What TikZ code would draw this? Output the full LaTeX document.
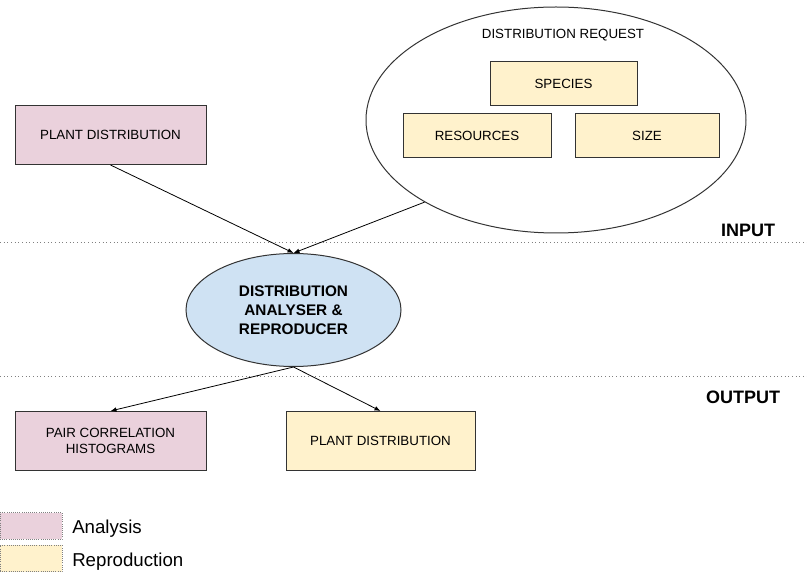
\documentclass[tikz,border=0pt]{standalone}
\usepackage{fontspec}
\setmainfont{Liberation Sans}
\usetikzlibrary{shapes.geometric,arrows.meta}
\definecolor{analysispink}{HTML}{EAD1DC}
\definecolor{reproyellow}{HTML}{FFF2CC}
\definecolor{analyserblue}{HTML}{CFE2F3}
\definecolor{edgegray}{HTML}{333333}

\begin{document}
\begin{tikzpicture}[x=0.75pt,y=-0.75pt,
    stagebox/.style={draw=edgegray,line width=0.75pt,inner sep=0pt,
      align=center,font=\fontsize{10}{12}\selectfont},
    flow/.style={draw=black,line width=0.6pt,-{Latex[length=4.5pt,width=3.5pt]}},
    layersep/.style={draw=gray,dotted,line width=0.75pt},
    keybox/.style={draw=gray,densely dotted,line width=0.6pt,
      minimum width=46.5pt,minimum height=19.75pt,inner sep=0pt}]
  \useasboundingbox (0,0) rectangle (807,577);

  % input side
  \node[stagebox,fill=analysispink,minimum width=143.25pt,minimum height=44.25pt]
    (pdin) at (110.5,135) {PLANT DISTRIBUTION};
  \node[draw=edgegray,line width=0.75pt,ellipse,inner sep=0pt,
        minimum width=285pt,minimum height=169.5pt]
    (request) at (556,120) {};
  \node[font=\fontsize{10}{12}\selectfont] (requesttitle) at (563,35) {DISTRIBUTION REQUEST};
  \node[stagebox,fill=reproyellow,minimum width=110.25pt,minimum height=33pt]
    (species) at (563.5,83.5) {SPECIES};
  \node[stagebox,fill=reproyellow,minimum width=111pt,minimum height=33pt]
    (resources) at (477,135.5) {RESOURCES};
  \node[stagebox,fill=reproyellow,minimum width=108pt,minimum height=33pt]
    (size) at (647,135.5) {SIZE};

  % layers
  \draw[layersep] (0,243) -- (807,243);
  \draw[layersep] (0,376) -- (807,376);
  \node[font=\fontsize{13.5}{16}\selectfont\bfseries] (inputlbl) at (748,230) {INPUT};
  \node[font=\fontsize{13.5}{16}\selectfont\bfseries] (outputlbl) at (743,397) {OUTPUT};

  % analyser
  \node[draw=edgegray,line width=0.75pt,ellipse,fill=analyserblue,inner sep=0pt,
        minimum width=161.25pt,minimum height=84.75pt,align=center,
        font=\fontsize{11.5}{14.25}\selectfont\bfseries]
    (analyser) at (293.5,310) {DISTRIBUTION\\ANALYSER \&\\REPRODUCER};

  % output side
  \node[stagebox,fill=analysispink,minimum width=143.25pt,minimum height=44.25pt]
    (pair) at (110.5,441) {PAIR CORRELATION\\HISTOGRAMS};
  \node[stagebox,fill=reproyellow,minimum width=141.75pt,minimum height=44.25pt]
    (pdout) at (380.5,441) {PLANT DISTRIBUTION};

  \draw[flow] (pdin.south) -- (analyser.north);
  \draw[flow] (request.212) -- (analyser.north);
  \draw[flow] (analyser.south) -- (pair.north);
  \draw[flow] (analyser.south) -- (pdout.north);

  % legend
  \node[keybox,fill=analysispink] (keyanalysis) at (31,526) {};
  \node[keybox,fill=reproyellow] (keyrepro) at (31,558.5) {};
  \node[anchor=west,inner sep=0pt,font=\fontsize{14}{16}\selectfont]
    (keyanalysislbl) at (72,528.5) {Analysis};
  \node[anchor=west,inner sep=0pt,font=\fontsize{14}{16}\selectfont]
    (keyreprolbl) at (72,561.5) {Reproduction};
\end{tikzpicture}
\end{document}
